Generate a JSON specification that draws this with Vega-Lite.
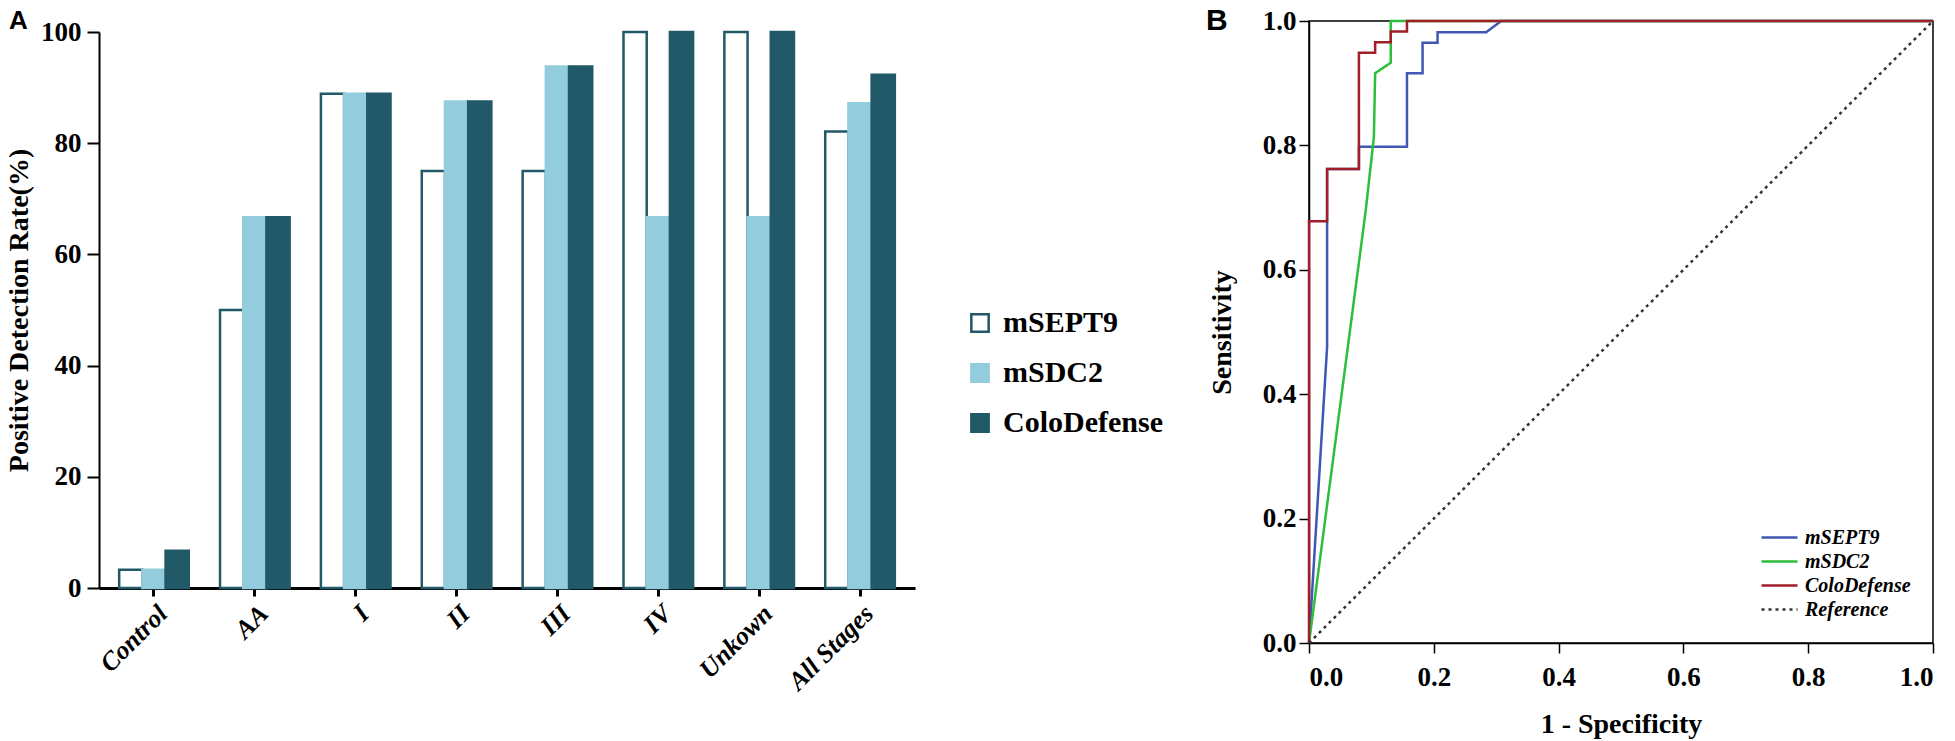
{
  "$schema": "https://vega.github.io/schema/vega-lite/v6.json",
  "background": "white",
  "padding": {"left": 5, "top": 5, "right": 0, "bottom": 0},
  "config": {
    "font": "Liberation Serif",
    "view": {"stroke": null},
    "concat": {"spacing": 290},
    "axis": {
      "grid": false,
      "labelFont": "Liberation Serif",
      "titleFont": "Liberation Serif",
      "labelFontWeight": "bold",
      "titleFontWeight": "bold",
      "labelColor": "black",
      "titleColor": "black",
      "domainColor": "black",
      "tickColor": "black"
    },
    "title": {"font": "Liberation Sans", "fontWeight": "bold", "color": "black", "anchor": "start", "frame": "group"}
  },
  "datasets": {
    "bars": [
      {"group": "Control", "assay": "mSEPT9", "rate": 3.3},
      {"group": "Control", "assay": "mSDC2", "rate": 3.3},
      {"group": "Control", "assay": "ColoDefense", "rate": 6.7},
      {"group": "AA", "assay": "mSEPT9", "rate": 50},
      {"group": "AA", "assay": "mSDC2", "rate": 66.7},
      {"group": "AA", "assay": "ColoDefense", "rate": 66.7},
      {"group": "I", "assay": "mSEPT9", "rate": 88.9},
      {"group": "I", "assay": "mSDC2", "rate": 88.9},
      {"group": "I", "assay": "ColoDefense", "rate": 88.9},
      {"group": "II", "assay": "mSEPT9", "rate": 75},
      {"group": "II", "assay": "mSDC2", "rate": 87.5},
      {"group": "II", "assay": "ColoDefense", "rate": 87.5},
      {"group": "III", "assay": "mSEPT9", "rate": 75},
      {"group": "III", "assay": "mSDC2", "rate": 93.8},
      {"group": "III", "assay": "ColoDefense", "rate": 93.8},
      {"group": "IV", "assay": "mSEPT9", "rate": 100},
      {"group": "IV", "assay": "mSDC2", "rate": 66.7},
      {"group": "IV", "assay": "ColoDefense", "rate": 100},
      {"group": "Unkown", "assay": "mSEPT9", "rate": 100},
      {"group": "Unkown", "assay": "mSDC2", "rate": 66.7},
      {"group": "Unkown", "assay": "ColoDefense", "rate": 100},
      {"group": "All Stages", "assay": "mSEPT9", "rate": 82.1},
      {"group": "All Stages", "assay": "mSDC2", "rate": 87.2},
      {"group": "All Stages", "assay": "ColoDefense", "rate": 92.3}
    ],
    "roc": [
      {"series": "mSEPT9", "i": 0, "fpr": 0, "tpr": 0},
      {"series": "mSEPT9", "i": 1, "fpr": 0.029, "tpr": 0.476},
      {"series": "mSEPT9", "i": 2, "fpr": 0.029, "tpr": 0.762},
      {"series": "mSEPT9", "i": 3, "fpr": 0.08, "tpr": 0.762},
      {"series": "mSEPT9", "i": 4, "fpr": 0.08, "tpr": 0.798},
      {"series": "mSEPT9", "i": 5, "fpr": 0.157, "tpr": 0.798},
      {"series": "mSEPT9", "i": 6, "fpr": 0.157, "tpr": 0.916},
      {"series": "mSEPT9", "i": 7, "fpr": 0.182, "tpr": 0.916},
      {"series": "mSEPT9", "i": 8, "fpr": 0.182, "tpr": 0.965},
      {"series": "mSEPT9", "i": 9, "fpr": 0.206, "tpr": 0.965},
      {"series": "mSEPT9", "i": 10, "fpr": 0.206, "tpr": 0.982},
      {"series": "mSEPT9", "i": 11, "fpr": 0.284, "tpr": 0.982},
      {"series": "mSEPT9", "i": 12, "fpr": 0.308, "tpr": 1},
      {"series": "mSEPT9", "i": 13, "fpr": 1, "tpr": 1},
      {"series": "mSDC2", "i": 0, "fpr": 0, "tpr": 0},
      {"series": "mSDC2", "i": 1, "fpr": 0.091, "tpr": 0.696},
      {"series": "mSDC2", "i": 2, "fpr": 0.104, "tpr": 0.814},
      {"series": "mSDC2", "i": 3, "fpr": 0.106, "tpr": 0.916},
      {"series": "mSDC2", "i": 4, "fpr": 0.131, "tpr": 0.933},
      {"series": "mSDC2", "i": 5, "fpr": 0.131, "tpr": 1},
      {"series": "mSDC2", "i": 6, "fpr": 1, "tpr": 1},
      {"series": "ColoDefense", "i": 0, "fpr": 0, "tpr": 0},
      {"series": "ColoDefense", "i": 1, "fpr": 0, "tpr": 0.678},
      {"series": "ColoDefense", "i": 2, "fpr": 0.029, "tpr": 0.678},
      {"series": "ColoDefense", "i": 3, "fpr": 0.029, "tpr": 0.762},
      {"series": "ColoDefense", "i": 4, "fpr": 0.08, "tpr": 0.762},
      {"series": "ColoDefense", "i": 5, "fpr": 0.08, "tpr": 0.949},
      {"series": "ColoDefense", "i": 6, "fpr": 0.106, "tpr": 0.949},
      {"series": "ColoDefense", "i": 7, "fpr": 0.106, "tpr": 0.966},
      {"series": "ColoDefense", "i": 8, "fpr": 0.131, "tpr": 0.966},
      {"series": "ColoDefense", "i": 9, "fpr": 0.131, "tpr": 0.983},
      {"series": "ColoDefense", "i": 10, "fpr": 0.157, "tpr": 0.983},
      {"series": "ColoDefense", "i": 11, "fpr": 0.157, "tpr": 1},
      {"series": "ColoDefense", "i": 12, "fpr": 1, "tpr": 1},
      {"series": "Reference", "i": 0, "fpr": 0, "tpr": 0},
      {"series": "Reference", "i": 1, "fpr": 1, "tpr": 1}
    ]
  },
  "hconcat": [
    {
      "width": 816,
      "height": 567,
      "title": {"text": "A", "fontSize": 26, "dx": -90, "offset": -16},
      "data": {"name": "bars"},
      "mark": {"type": "bar", "strokeWidth": 2.5},
      "encoding": {
        "x": {
          "field": "group",
          "type": "nominal",
          "sort": ["Control", "AA", "I", "II", "III", "IV", "Unkown", "All Stages"],
          "scale": {"paddingInner": 0.31, "paddingOuter": 0.2},
          "axis": {
            "title": null,
            "labelAngle": -45,
            "labelFontSize": 26,
            "labelFontStyle": "italic",
            "domainWidth": 3,
            "tickWidth": 3,
            "tickSize": 8,
            "labelPadding": 4
          }
        },
        "xOffset": {
          "field": "assay",
          "type": "nominal",
          "sort": ["mSEPT9", "mSDC2", "ColoDefense"],
          "scale": {"paddingInner": 0, "paddingOuter": 0}
        },
        "y": {
          "field": "rate",
          "type": "quantitative",
          "scale": {"domain": [0, 100], "range": [567, 11]},
          "axis": {
            "title": "Positive Detection Rate(%)",
            "values": [0, 20, 40, 60, 80, 100],
            "labelFontSize": 27,
            "titleFontSize": 28,
            "domainWidth": 2,
            "tickWidth": 2,
            "tickSize": 12,
            "labelPadding": 6,
            "titlePadding": 7
          }
        },
        "fill": {
          "field": "assay",
          "type": "nominal",
          "scale": {"domain": ["mSEPT9", "mSDC2", "ColoDefense"], "range": ["#ffffff", "#93cddd", "#215968"]},
          "legend": {
            "title": null,
            "orient": "none",
            "legendX": 866,
            "legendY": 287,
            "labelFont": "Liberation Serif",
            "labelFontSize": 30,
            "labelFontWeight": "bold",
            "labelColor": "black",
            "labelOffset": 8,
            "symbolType": "square",
            "symbolSize": 300,
            "symbolStrokeWidth": 2.5,
            "rowPadding": 20
          }
        },
        "stroke": {
          "field": "assay",
          "type": "nominal",
          "scale": {"domain": ["mSEPT9", "mSDC2", "ColoDefense"], "range": ["#215968", "#93cddd", "#215968"]},
          "legend": {
            "title": null,
            "orient": "none",
            "legendX": 866,
            "legendY": 287,
            "labelFont": "Liberation Serif",
            "labelFontSize": 30,
            "labelFontWeight": "bold",
            "labelColor": "black",
            "labelOffset": 8,
            "symbolType": "square",
            "symbolSize": 300,
            "symbolStrokeWidth": 2.5,
            "rowPadding": 20
          }
        }
      }
    },
    {
      "width": 624,
      "height": 622,
      "view": {"stroke": "black", "strokeWidth": 1.5},
      "title": {"text": "B", "fontSize": 30, "dx": -103, "offset": -29},
      "data": {"name": "roc"},
      "mark": {"type": "line", "strokeWidth": 2.5},
      "encoding": {
        "x": {
          "field": "fpr",
          "type": "quantitative",
          "scale": {"domain": [0, 1], "nice": false},
          "axis": {
            "title": "1 - Specificity",
            "format": ".1f",
            "values": [0, 0.2, 0.4, 0.6, 0.8, 1],
            "labelFontSize": 27,
            "titleFontSize": 28,
            "tickSize": 10,
            "labelPadding": 11,
            "titlePadding": 20,
            "domainWidth": 1.5,
            "tickWidth": 1.5
          }
        },
        "y": {
          "field": "tpr",
          "type": "quantitative",
          "scale": {"domain": [0, 1], "nice": false},
          "axis": {
            "title": "Sensitivity",
            "format": ".1f",
            "values": [0, 0.2, 0.4, 0.6, 0.8, 1],
            "labelFontSize": 27,
            "titleFontSize": 28,
            "tickSize": 10,
            "labelPadding": 3,
            "titlePadding": 26,
            "domainWidth": 1.5,
            "tickWidth": 1.5
          }
        },
        "color": {
          "field": "series",
          "type": "nominal",
          "scale": {"domain": ["mSEPT9", "mSDC2", "ColoDefense", "Reference"], "range": ["#3e58b3", "#2dbe3c", "#a11d2a", "#333333"]},
          "legend": {
            "title": null,
            "orient": "none",
            "legendX": 1670,
            "legendY": 506,
            "labelFont": "Liberation Serif",
            "labelFontSize": 20,
            "labelFontWeight": "bold",
            "labelFontStyle": "italic",
            "labelColor": "black",
            "labelOffset": 15,
            "symbolType": "M-2,0H2",
            "symbolSize": 324,
            "symbolStrokeWidth": 2.5,
            "rowPadding": 3
          }
        },
        "strokeDash": {
          "field": "series",
          "type": "nominal",
          "scale": {"domain": ["mSEPT9", "mSDC2", "ColoDefense", "Reference"], "range": [[1, 0], [1, 0], [1, 0], [3, 4]]},
          "legend": {
            "title": null,
            "orient": "none",
            "legendX": 1670,
            "legendY": 506,
            "labelFont": "Liberation Serif",
            "labelFontSize": 20,
            "labelFontWeight": "bold",
            "labelFontStyle": "italic",
            "labelColor": "black",
            "labelOffset": 15,
            "symbolType": "M-2,0H2",
            "symbolSize": 324,
            "symbolStrokeWidth": 2.5,
            "rowPadding": 3
          }
        },
        "order": {"field": "i", "type": "quantitative"}
      }
    }
  ]
}
